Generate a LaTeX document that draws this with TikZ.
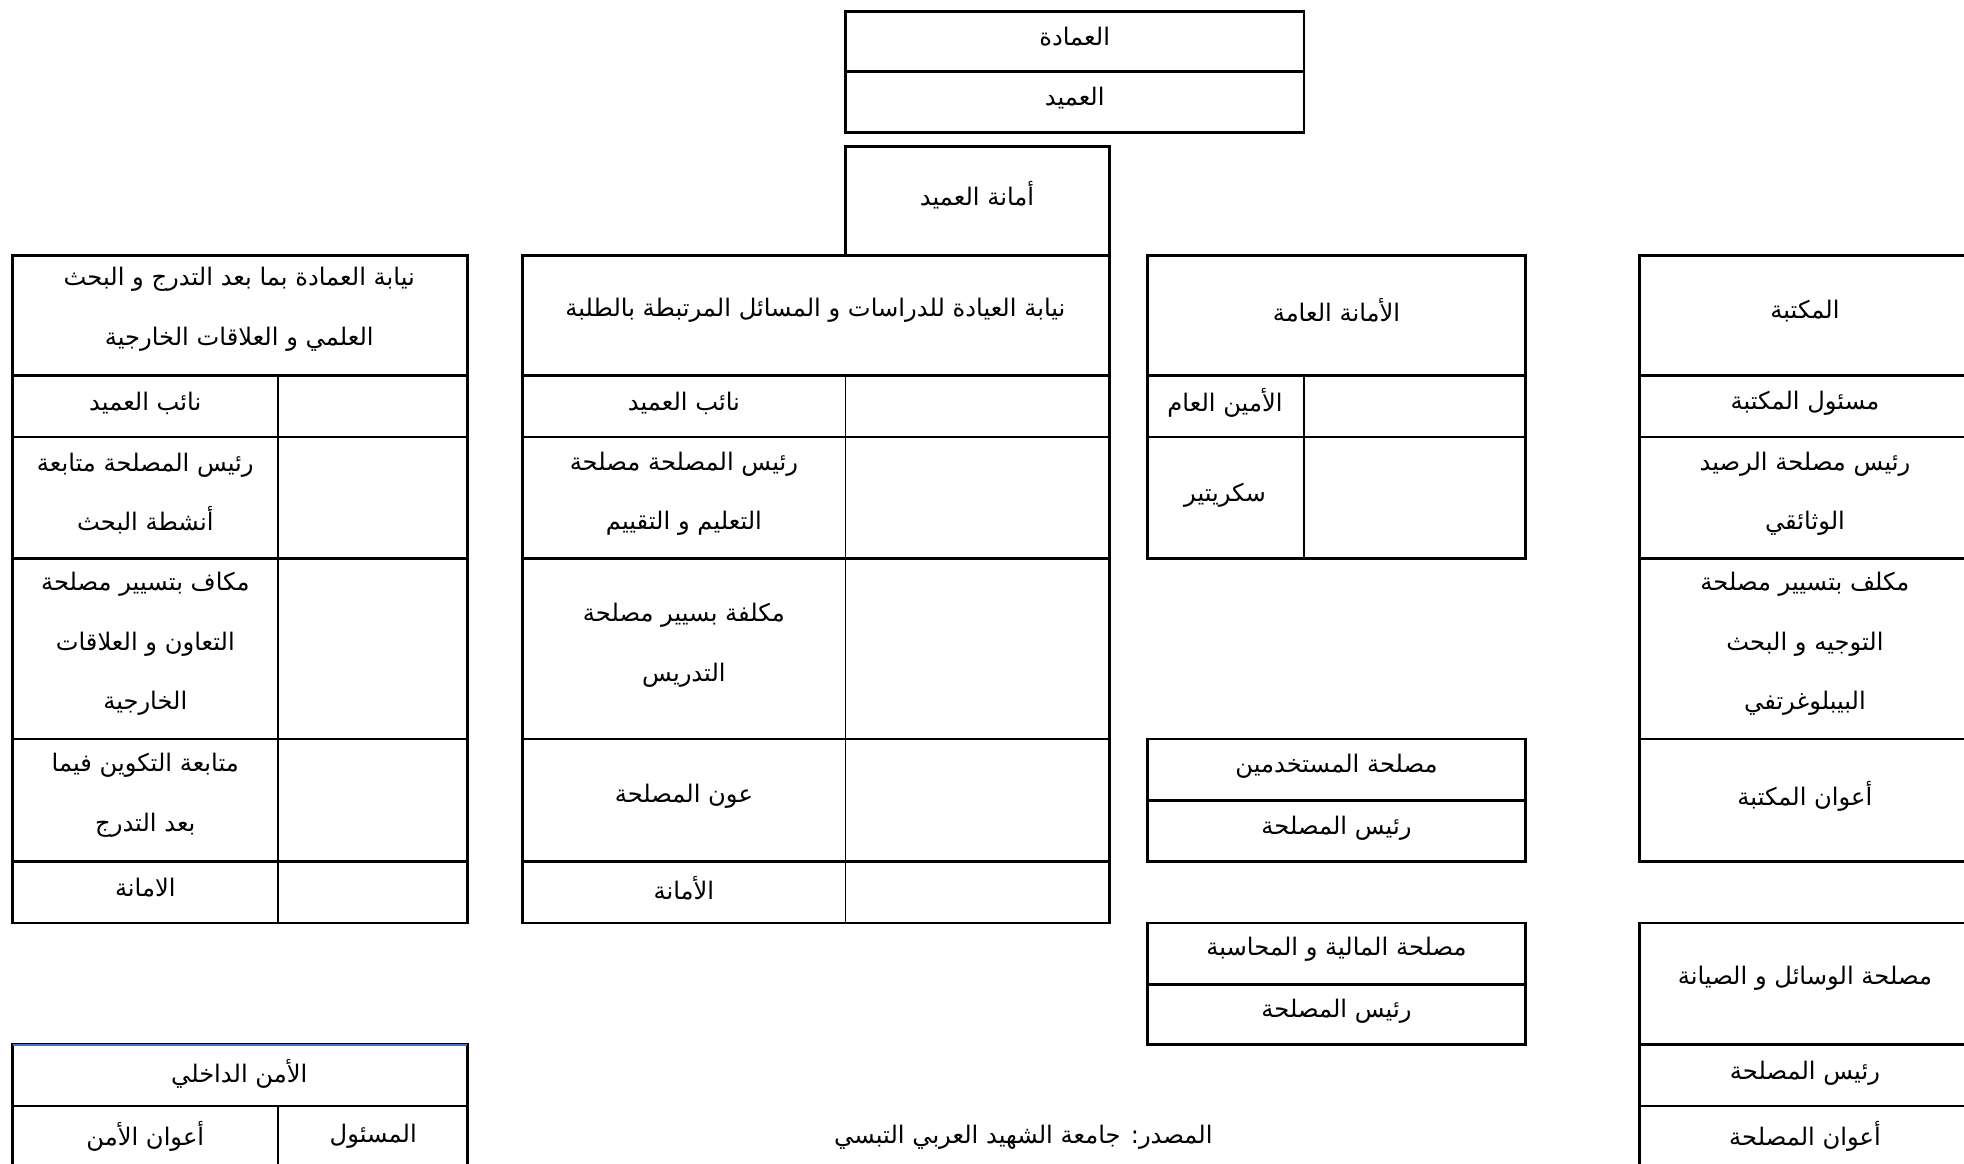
\documentclass[tikz,border=0pt]{standalone}
\usepackage{fontspec}
\newfontfamily\arabicfont[Script=Arabic]{DejaVu Sans}
\TeXXeTstate=1
\newcommand{\ar}[1]{\beginR #1\endR}
\definecolor{wordblue}{RGB}{68,114,196}

\begin{document}
\begin{tikzpicture}[x=0.02cm, y=-0.02cm,
    box/.style={draw, line width=1.2pt},
    sep/.style={draw, line width=0.8pt},
    txt/.style={align=center, inner sep=0pt, font=\arabicfont\fontsize{11}{27}\selectfont}]
    \clip (0,0) rectangle (1568,929);

    % Boxes
    \draw[box] (675,9) rectangle (1041,106);
    \draw[box] (675,57) -- (1041,57);
    \draw[box] (675,117) rectangle (886,204);

    \draw[box] (10,204) rectangle (373,737);
    \foreach \y in {300,349,446,590,688} \draw[box] (10,\y) -- (373,\y);
    \draw[sep] (222,300) -- (222,737);

    \draw[box] (417,204) rectangle (886,737);
    \foreach \y in {300,349,446,590,688} \draw[box] (417,\y) -- (886,\y);
    \draw[sep] (675,300) -- (675,737);

    \draw[box] (916,204) rectangle (1218,446);
    \foreach \y in {300,349} \draw[box] (916,\y) -- (1218,\y);
    \draw[sep] (1041,300) -- (1041,446);

    \draw[box] (1309,204) rectangle (1573,688);
    \foreach \y in {300,349,446,590} \draw[box] (1309,\y) -- (1573,\y);

    \draw[box] (916,590) rectangle (1218,688);
    \draw[box] (916,639) -- (1218,639);
    \draw[box] (916,737) rectangle (1218,834);
    \draw[box] (916,786) -- (1218,786);

    \draw[box] (1309,737) rectangle (1573,960);
    \foreach \y in {834,883} \draw[box] (1309,\y) -- (1573,\y);

    \draw[box] (10,834) rectangle (373,960);
    \draw[box] (10,883) -- (373,883);
    \draw[sep] (222,883) -- (222,960);
    \draw[wordblue, line width=1pt] (10,834) -- (373,834);

    % Nodes
    \node[txt] (amada) at (858,29) {\ar{العمادة}};
    \node[txt] (amid) at (858,78) {\ar{العميد}};
    \node[txt] (amanaamid) at (780,156) {\ar{أمانة العميد}};

    \node[txt] (nyabaone) at (191,247) {\ar{نيابة العمادة بما بعد التدرج و البحث}\\\ar{العلمي و العلاقات الخارجية}};
    \node[txt] (naibone) at (116,322) {\ar{نائب العميد}};
    \node[txt] (raisbahth) at (116,394) {\ar{رئيس المصلحة متابعة}\\\ar{أنشطة البحث}};
    \node[txt] (mukaf) at (116,514) {\ar{مكاف بتسيير مصلحة}\\\ar{التعاون و العلاقات}\\\ar{الخارجية}};
    \node[txt] (mutaba) at (116,635) {\ar{متابعة التكوين فيما}\\\ar{بعد التدرج}};
    \node[txt] (amanaone) at (116,709) {\ar{الامانة}};

    \node[txt] (nyabatwo) at (651,248) {\ar{نيابة العيادة للدراسات و المسائل المرتبطة بالطلبة}};
    \node[txt] (naibtwo) at (546,322) {\ar{نائب العميد}};
    \node[txt] (raistalim) at (546,394) {\ar{رئيس المصلحة مصلحة}\\\ar{التعليم و التقييم}};
    \node[txt] (mukalafa) at (546,515) {\ar{مكلفة بسيير مصلحة}\\\ar{التدريس}};
    \node[txt] (awn) at (546,636) {\ar{عون المصلحة}};
    \node[txt] (amanatwo) at (546,709) {\ar{الأمانة}};

    \node[txt] (amanaama) at (1067,248) {\ar{الأمانة العامة}};
    \node[txt] (amin) at (978,322) {\ar{الأمين العام}};
    \node[txt] (sikritir) at (978,395) {\ar{سكريتير}};

    \node[txt] (maktaba) at (1441,248) {\ar{المكتبة}};
    \node[txt] (masul) at (1441,322) {\ar{مسئول المكتبة}};
    \node[txt] (raisrasid) at (1441,394) {\ar{رئيس مصلحة الرصيد}\\\ar{الوثائقي}};
    \node[txt] (mukalaf) at (1441,514) {\ar{مكلف بتسيير مصلحة}\\\ar{التوجيه و البحث}\\\ar{البيبلوغرتفي}};
    \node[txt] (awanmaktaba) at (1441,636) {\ar{أعوان المكتبة}};

    \node[txt] (mustakhdimin) at (1067,612) {\ar{مصلحة المستخدمين}};
    \node[txt] (raismustakh) at (1067,661) {\ar{رئيس المصلحة}};
    \node[txt] (maliya) at (1067,758) {\ar{مصلحة المالية و المحاسبة}};
    \node[txt] (raismaliya) at (1067,807) {\ar{رئيس المصلحة}};

    \node[txt] (wasail) at (1441,781) {\ar{مصلحة الوسائل و الصيانة}};
    \node[txt] (raiswasail) at (1441,857) {\ar{رئيس المصلحة}};
    \node[txt] (awanmaslaha) at (1441,907) {\ar{أعوان المصلحة}};

    \node[txt] (amn) at (191,857) {\ar{الأمن الداخلي}};
    \node[txt] (masulamn) at (298,907) {\ar{المسئول}};
    \node[txt] (awanamn) at (116,907) {\ar{أعوان الأمن}};

    \node[txt] (masdar) at (817,908) {\ar{المصدر: جامعة الشهيد العربي التبسي}};
\end{tikzpicture}
\end{document}
